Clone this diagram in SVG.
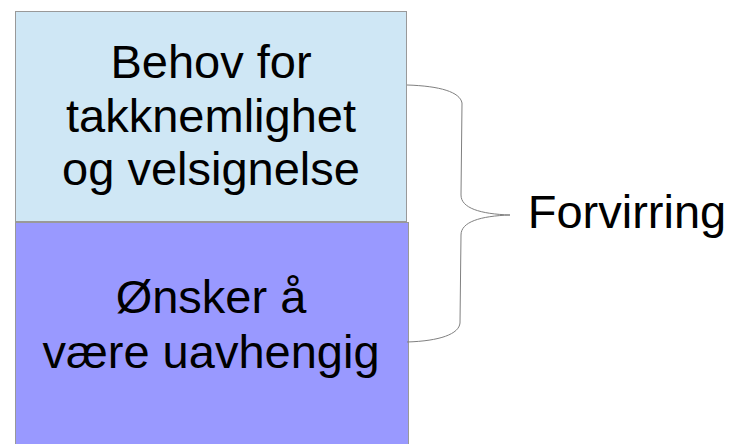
<svg xmlns="http://www.w3.org/2000/svg" width="731" height="444" viewBox="0 0 731 444">
<style>
.t{font-family:"Liberation Sans",Arial,sans-serif;font-size:47px;fill:#000;text-anchor:middle}
.box{stroke:#999;stroke-width:1}
.brace{fill:none;stroke:#808080;stroke-width:1}
</style>
<rect x="0" y="0" width="731" height="444" fill="#fff"/>
<g id="node-top">
<rect class="box" x="15.5" y="11.5" width="391" height="210" fill="#cfe7f5"/>
<text class="t" x="211" y="78">Behov for</text>
<text class="t" x="211" y="132">takknemlighet</text>
<text class="t" x="211" y="185">og velsignelse</text>
</g>
<g id="node-bottom">
<rect class="box" x="15.5" y="222.5" width="393" height="230" fill="#9999ff"/>
<text class="t" x="211" y="313">Ønsker å</text>
<text class="t" x="211" y="368">være uavhengig</text>
</g>
<g id="connectors">
<path class="brace" d="M407,85 C440,86 460,92 462,103 L461,195 C461,208 480,214 510,215 C480,216 461,222 461,235 L460,323 C459,334 440,341 407,342"/>
</g>
<g id="label">
<text class="t" x="627" y="228">Forvirring</text>
</g>
</svg>
